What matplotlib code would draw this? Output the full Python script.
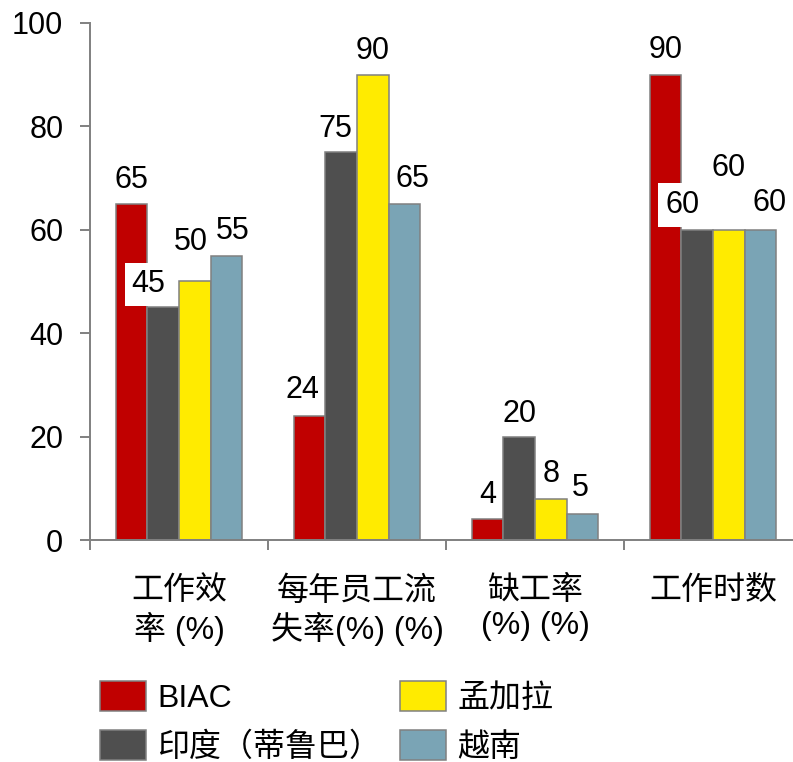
import matplotlib.pyplot as plt
from matplotlib.patches import Patch
import numpy as np

plt.rcParams["font.family"] = ["Liberation Sans", "Noto Sans CJK SC"]

categories = ["工作效\n率 (%)", "每年员工流\n失率(%) (%)", "缺工率\n(%) (%)", "工作时数"]
series = ["BIAC", "印度（蒂鲁巴）", "孟加拉", "越南"]
biac = [65, 24, 4, 90]
india = [45, 75, 20, 60]
bangladesh = [50, 90, 8, 60]
vietnam = [55, 65, 5, 60]
yticks = [0, 20, 40, 60, 80, 100]

colors = ["#C00000", "#4F4F4F", "#FFEB00", "#7AA4B5"]
edge = "#808080"

# label nudges in pixels (dx, dy) from bar top, to mimic the manual placement
label_nudge = [
    [(0, 24), (-7, 26), (0, 24), (0, 25)],
    [(-15, 23), (-6, 23), (0, 23), (-15, 25)],
    [(-4, 39), (0, 24), (0, 25), (0, 62)],
    [(6, 25), (8, 25), (-2, 26), (9, 27)],
]

W, H = 793, 762
fig = plt.figure(figsize=(W / 100, H / 100), dpi=100)
ax = fig.add_axes([90 / W, 1 - 540 / H, 712 / W, 517 / H])

x = np.arange(len(categories))
width = 0.177
px = 0.72  # points per pixel

for i, (vals, c) in enumerate(zip([biac, india, bangladesh, vietnam], colors)):
    pos = x + (i - 1.5) * width
    ax.bar(pos, vals, width, color=c, edgecolor=edge, linewidth=1.1, label=series[i], zorder=2)
    for j, (xp, v) in enumerate(zip(pos, vals)):
        dx, dy = label_nudge[i][j]
        # labels pushed onto the neighbouring bar get a bigger white patch
        pad = 0.22 if dx <= -15 else 0.08
        ax.annotate(
            str(v), (xp, v), xytext=(dx * px, dy * px), textcoords="offset points",
            ha="center", va="center", fontsize=22, zorder=5,
            bbox=dict(boxstyle=f"square,pad={pad}", fc="white", ec="none"),
        )

ax.set_xlim(-0.5, 3.5)
ax.set_ylim(0, 100)
ax.set_yticks(yticks)
ax.set_xticks(x)
ax.set_xticklabels(categories, fontsize=23, linespacing=1.2)
ax.set_xticks(np.arange(-0.5, 4, 1), minor=True)
ax.tick_params(axis="x", which="major", length=0, pad=26)
ax.tick_params(axis="x", which="minor", length=7.2, width=1.4, color=edge, direction="out")
ax.tick_params(axis="y", length=7.2, width=1.4, color=edge, pad=12, labelsize=22)

for s in ["top", "right"]:
    ax.spines[s].set_visible(False)
for s in ["left", "bottom"]:
    ax.spines[s].set_color(edge)
    ax.spines[s].set_linewidth(1.4)

handles = [Patch(facecolor=c, edgecolor=edge, linewidth=1.1) for c in colors]
fig.legend(
    handles, series, loc="upper left", bbox_to_anchor=(100 / W, 1 - 681 / H),
    ncol=2, frameon=False, fontsize=23, borderpad=0, borderaxespad=0,
    handlelength=1.44, handleheight=1.07, handletextpad=0.35,
    columnspacing=0.6, labelspacing=0.5,
)

fig.savefig("out.png", dpi=100)
